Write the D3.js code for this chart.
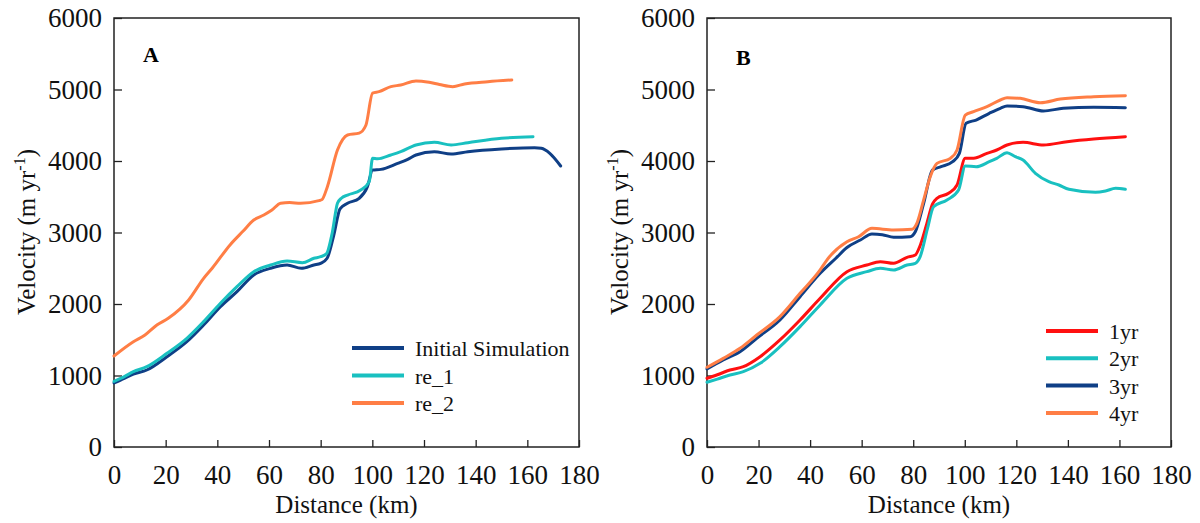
<!DOCTYPE html>
<html>
<head>
<meta charset="utf-8">
<script src="https://cdn.jsdelivr.net/npm/d3@7"></script>
<style>
  body { margin: 0; background: #fff; }
  svg { display: block; }
</style>
</head>
<body>
<svg id="chart" width="1200" height="523"></svg>
<script>
const SERIF = "'Liberation Serif', 'Times New Roman', Times, serif";

// axis ticks
const xTicks = [0, 20, 40, 60, 80, 100, 120, 140, 160, 180];
const yTicks = [0, 1000, 2000, 3000, 4000, 5000, 6000];

// panel A  [distance km, velocity m/yr]
const initialSim = [[0,895],[4,960],[7.5,1020],[12.7,1077],[20.5,1263],[28.2,1473],[34.7,1706],[41.2,1963],[47.6,2172],[54.1,2406],[60.6,2499],[67,2545],[72.5,2499],[77.4,2545],[80,2569],[82.5,2640],[85,2950],[87.5,3330],[90.4,3408],[94.9,3478],[98.1,3641],[100.1,3874],[103.3,3883],[109.8,3967],[113.7,4024],[116.9,4084],[124,4130],[130.5,4098],[137,4130],[150,4168],[162.8,4186],[165.4,4177],[168.7,4107],[172.9,3930]];
const re1 = [[0,918],[4,985],[7.5,1053],[12.7,1123],[20.5,1310],[28.2,1520],[34.7,1753],[41.2,2010],[47.6,2242],[54.1,2452],[60.6,2545],[67,2601],[72.9,2578],[77.4,2639],[80,2662],[82.2,2700],[84.5,3000],[86.5,3408],[88,3480],[90.4,3524],[95.5,3594],[98.8,3711],[100.1,4037],[102,4030],[107.2,4084],[111,4130],[116.9,4224],[124,4261],[130.5,4224],[137,4256],[150,4317],[162.2,4340]];
const re2 = [[0,1273],[7.5,1473],[12,1566],[16.6,1706],[21,1800],[28.9,2056],[34.7,2359],[38,2500],[45,2830],[50,3020],[54.1,3175],[58,3245],[61,3310],[64.5,3410],[68,3420],[72.2,3408],[79.3,3445],[80.5,3460],[82.6,3641],[86.5,4154],[88.5,4300],[90.4,4364],[94.9,4390],[97.5,4500],[100.1,4950],[102.6,4970],[107.2,5040],[111,5063],[116.9,5119],[122,5100],[126,5070],[131.1,5040],[135.7,5077],[144.7,5109],[154,5133]];

// panel B
const yr1 = [[0,961],[4,1010],[8.9,1077],[14.1,1123],[20.6,1263],[28.3,1497],[36.1,1776],[43.9,2080],[54.3,2452],[62,2545],[67.2,2592],[72.4,2569],[77.6,2653],[80.8,2685],[82.5,2800],[85.3,3128],[87.5,3400],[89.2,3478],[93.7,3548],[97,3664],[100.2,4037],[103.4,4037],[108.6,4107],[112.4,4154],[116.4,4224],[122.6,4261],[130.5,4224],[139.7,4270],[150,4308],[162.3,4340]];
const yr2 = [[0,905],[4,950],[8.9,1007],[14.1,1053],[20.6,1170],[28.3,1403],[36.1,1683],[43.9,1986],[54.3,2359],[62,2452],[67.2,2499],[72.4,2476],[77.6,2545],[80.8,2569],[82.7,2662],[85.5,3050],[87.9,3361],[93.1,3455],[97.6,3594],[100.2,3930],[104.4,3920],[109.5,3990],[112.4,4037],[116.4,4116],[119.6,4060],[122.6,4014],[127.4,3828],[132.6,3711],[136.5,3664],[140.4,3604],[150.7,3562],[154.6,3580],[158.5,3618],[162.3,3604]];
const yr3 = [[0,1091],[6.3,1217],[12.8,1333],[19.3,1520],[28.3,1776],[36.1,2102],[43.9,2429],[50,2640],[54.3,2790],[59.5,2895],[64,2979],[68,2970],[72.4,2933],[78.8,2941],[80.8,3011],[84,3400],[87.5,3874],[90.8,3920],[95.3,3990],[97.9,4107],[100.5,4527],[104.4,4573],[109.5,4667],[113.8,4737],[116.4,4769],[122.6,4760],[130.5,4699],[138.2,4737],[150,4751],[162.3,4746]];
const yr4 = [[0,1115],[6.3,1240],[12.8,1380],[19.3,1566],[28.3,1823],[36.1,2149],[43.9,2476],[46.5,2615],[54.3,2871],[58.8,2941],[64,3058],[72.4,3035],[79.5,3045],[81.4,3128],[84,3450],[86.6,3781],[89.2,3967],[94.4,4037],[97,4154],[100.2,4640],[103.4,4690],[108.6,4760],[113.8,4853],[116.4,4886],[121.5,4876],[129.3,4816],[137.1,4867],[150,4900],[162.3,4914]];

const NAVY = "#0f3f86", CYAN = "#19c0c0", ORANGE = "#ff7e45", RED = "#ff1010";

const svg = d3.select("#chart");

function styleAxis(a) {
  a.select(".domain").remove();
  a.attr("font-family", SERIF);
  a.selectAll(".tick text")
    .style("font-family", SERIF)
    .style("font-size", "27px")
    .attr("fill", "#111");
  a.selectAll(".tick line").attr("stroke", "#222").attr("stroke-width", 1.3);
}

function drawPanel(opts) {
  const x = d3.scaleLinear().domain([0, 180]).range([opts.left, opts.right]);
  const y = d3.scaleLinear().domain([0, 6000]).range([447, 18]);

  const g = svg.append("g");

  g.append("g")
    .attr("transform", "translate(0,447)")
    .call(d3.axisBottom(x).tickValues(xTicks).tickFormat(d3.format("d"))
      .tickSizeInner(-7).tickSizeOuter(0).tickPadding(18))
    .call(styleAxis);

  g.append("g")
    .attr("transform", `translate(${opts.left},0)`)
    .call(d3.axisLeft(y).tickValues(yTicks).tickFormat(d3.format("d"))
      .tickSizeInner(-8).tickSizeOuter(0).tickPadding(12))
    .call(styleAxis);

  // frame
  g.append("rect")
    .attr("x", opts.left).attr("y", 18)
    .attr("width", opts.right - opts.left).attr("height", 447 - 18)
    .attr("fill", "none").attr("stroke", "#222").attr("stroke-width", 1.5);

  const line = d3.line()
    .x(d => x(d[0]))
    .y(d => y(d[1]))
    .curve(d3.curveMonotoneX);

  g.selectAll("path.series")
    .data(opts.series)
    .join("path")
    .attr("class", "series")
    .attr("d", d => line(d.values))
    .attr("fill", "none")
    .attr("stroke", d => d.color)
    .attr("stroke-width", 3)
    .attr("stroke-linejoin", "round")
    .attr("stroke-linecap", "round");

  // legend
  const leg = g.selectAll("g.leg")
    .data(opts.series)
    .join("g")
    .attr("class", "leg")
    .attr("transform", (d, i) => `translate(${opts.legX},${opts.legY + i * opts.legStep})`);
  leg.append("line")
    .attr("x1", 0).attr("x2", 52)
    .attr("stroke", d => d.color).attr("stroke-width", 4);
  leg.append("text")
    .attr("x", 63).attr("y", 8)
    .style("font-family", SERIF)
    .style("font-size", "22px")
    .attr("fill", "#111")
    .text(d => d.name);

  // panel letter
  g.append("text")
    .attr("x", opts.left + 29).attr("y", opts.letterY)
    .style("font-family", SERIF)
    .style("font-weight", "bold")
    .style("font-size", "22px")
    .text(opts.letter);

  // axis titles
  g.append("text")
    .attr("x", (opts.left + opts.right) / 2).attr("y", 513)
    .attr("text-anchor", "middle")
    .style("font-family", SERIF)
    .style("font-size", "25px")
    .attr("fill", "#111")
    .text("Distance (km)");

  const yt = g.append("text")
    .attr("transform", `translate(${opts.left - 79},232) rotate(-90)`)
    .attr("text-anchor", "middle")
    .style("font-family", SERIF)
    .style("font-size", "25px")
    .attr("fill", "#111");
  yt.append("tspan").text("Velocity (m yr");
  yt.append("tspan").attr("dy", -10).style("font-size", "16px").text("-1");
  yt.append("tspan").attr("dy", 10).text(")");
}

drawPanel({
  left: 114, right: 579, letter: "A", letterY: 62,
  legX: 352, legY: 348, legStep: 27.5,
  series: [
    { name: "Initial Simulation", color: NAVY, values: initialSim },
    { name: "re_1", color: CYAN, values: re1 },
    { name: "re_2", color: ORANGE, values: re2 }
  ]
});

drawPanel({
  left: 707, right: 1171, letter: "B", letterY: 65,
  legX: 1046, legY: 331, legStep: 27.3,
  series: [
    { name: "1yr", color: RED, values: yr1 },
    { name: "2yr", color: CYAN, values: yr2 },
    { name: "3yr", color: NAVY, values: yr3 },
    { name: "4yr", color: ORANGE, values: yr4 }
  ]
});
</script>
</body>
</html>
